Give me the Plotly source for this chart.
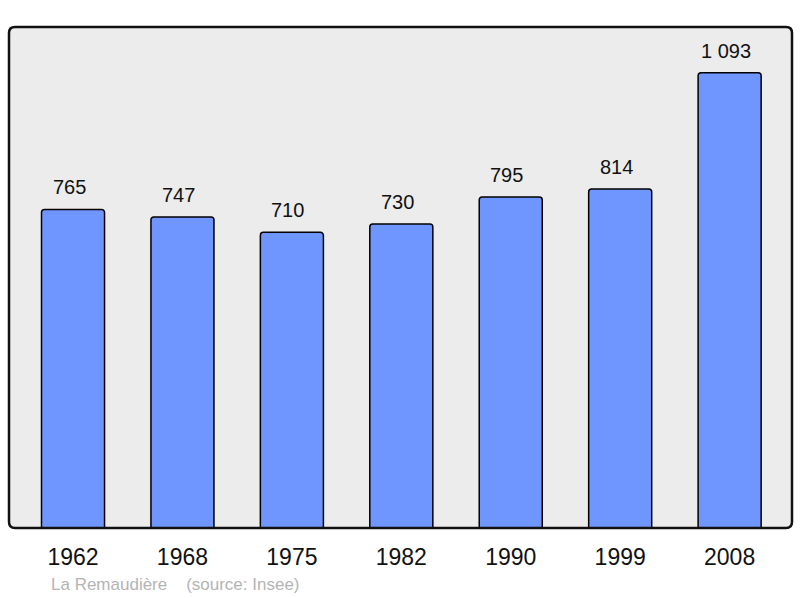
import plotly.graph_objects as go

years = ["1962", "1968", "1975", "1982", "1990", "1999", "2008"]
population = [765, 747, 710, 730, 795, 814, 1093]
labels = ["765", "747", "710", "730", "795", "814", "1 093"]
footer = "La Remaudière\u00a0\u00a0\u00a0\u00a0(source: Insee)"

fig = go.Figure()
fig.add_trace(go.Bar(
    x=years, y=population, width=0.576,
    marker=dict(color="#6f96ff", line=dict(color="black", width=1.5), cornerradius=3),
    hoverinfo="skip",
))

# value labels above the bars
for i, (val, lab) in enumerate(zip(population, labels)):
    fig.add_annotation(x=i, y=val, xref="x", yref="y", text=lab, showarrow=False,
                       yanchor="bottom", yshift=9, xshift=-4,
                       font=dict(size=20, color="#111111", family="Liberation Sans, Arial"))

# rounded frame around plot area
rx, ry = 6 / 783, 6 / 501
frame = (f"M {rx},0 L {1-rx},0 Q 1,0 1,{ry} L 1,{1-ry} Q 1,1 {1-rx},1 "
         f"L {rx},1 Q 0,1 0,{1-ry} L 0,{ry} Q 0,0 {rx},0 Z")
fig.add_shape(type="path", path=frame, xref="paper", yref="paper",
              line=dict(color="#111111", width=2.5), layer="above")

fig.add_annotation(text=footer, showarrow=False, xref="paper", yref="paper",
                   x=(49 - 9) / 783, y=-(584 - 528) / 501, xanchor="left", yanchor="middle",
                   font=dict(size=17, color="#b4b4b4", family="Liberation Sans, Arial"))

fig.update_layout(
    width=800, height=598,
    margin=dict(l=9, r=8, t=27, b=70),
    paper_bgcolor="white", plot_bgcolor="#ececec",
    showlegend=False,
    font=dict(family="Liberation Sans, Arial", color="#111111"),
    xaxis=dict(type="category", range=[-0.585, 6.57], showgrid=False, zeroline=False,
               ticks="", tickfont=dict(size=23), ticklabelstandoff=13, showline=False),
    yaxis=dict(range=[0, 1203], showgrid=False, zeroline=False, showticklabels=False,
               ticks="", showline=False),
)

fig.write_html("out.html", config={"displayModeBar": False},
               post_script="document.body.style.margin='0';")
